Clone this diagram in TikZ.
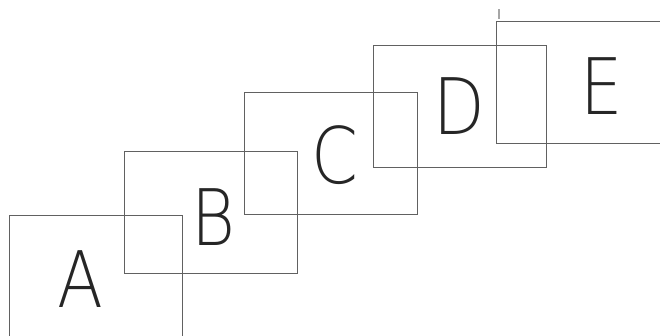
\documentclass[tikz,border=0pt]{standalone}
\usepackage{fontspec}
\newfontfamily\thinfont{DejaVu Sans ExtraLight}
\usepackage{tikz}
\usetikzlibrary{positioning}

\begin{document}
\begin{tikzpicture}[x=1pt,y=-1pt,
  frame/.style={draw=black!62,line width=1pt,minimum width=173pt,minimum height=122pt,inner sep=0pt},
  letter/.style={anchor=base,inner sep=0pt,text=black!85,font=\thinfont\fontsize{78}{78}\selectfont,xscale=.86,transform shape}]
  \useasboundingbox (0,0) rectangle (660,335);
  % 枠
  \node[frame] (fA) at (95.5,276) {};
  \node[frame] (fB) at (210.5,212) {};
  \node[frame] (fC) at (330.5,153) {};
  \node[frame] (fD) at (459.5,106) {};
  \node[frame] (fE) at (582.5,82) {};

  % 文字
  \node[letter] (A) at (80,307) {A};
  \node[letter] (B) at (213.5,245) {B};
  \node[letter] (C) at (334.5,183) {C};
  \node[letter] (D) at (459,134) {D};
  \node[letter] (E) at (601.5,114) {E};

  % 左上の印
  \draw[black!35,line width=2pt] (499,9) -- (499,19);
\end{tikzpicture}
\end{document}
